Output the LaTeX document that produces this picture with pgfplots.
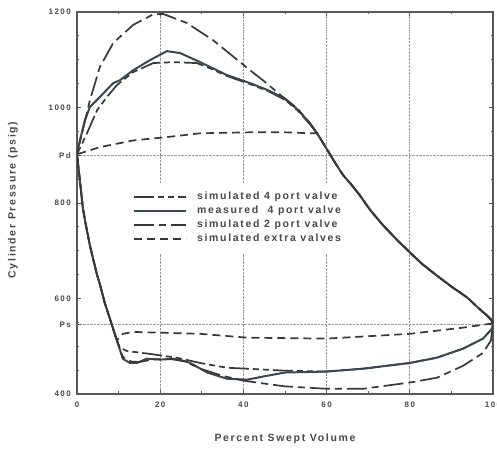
\documentclass[border=0pt]{standalone}
\usepackage{pgfplots}
\pgfplotsset{compat=1.18}
\usepackage{fontspec}
\setmainfont{Liberation Sans}
\newfontfamily\lblfont[LetterSpace=16]{Liberation Sans}
\newfontfamily\tickfont[LetterSpace=18]{Liberation Sans}

\definecolor{crv}{HTML}{383838}
\definecolor{meas}{HTML}{3A4753}
\definecolor{txt}{HTML}{474747}

\begin{document}
\begin{tikzpicture}
\begin{axis}[
    at={(0pt,0pt)}, anchor=south west,
    scale only axis,
    width=416pt, height=382pt,
    xmin=0, xmax=100, ymin=400, ymax=1200,
    xtick={0,20,40,60,80,100},
    ytick={400,600,800,1000,1200},
    minor x tick num=1,
    minor y tick num=3,
    extra y ticks={545,900},
    extra y tick labels={Ps,Pd},
    extra y tick style={grid=major},
    xmajorgrids=true,
    major grid style={densely dotted, black!40, line width=0.7pt},
    axis line style={black!65, line width=1.3pt},
    every tick/.style={black!65, line width=0.8pt},
    major tick length=4pt, minor tick length=2.5pt,
    /pgf/number format/assume math mode=true,
    /pgf/number format/1000 sep={},
    tick label style={font=\tickfont\fontsize{8}{8}\selectfont\bfseries, text=txt},
    yticklabel style={inner sep=0pt, xshift=-6pt},
    xticklabel style={inner sep=0pt, yshift=-8pt},
    legend style={at={(axis cs:11.5,841)}, anchor=north west, draw=none, fill=white,
        inner xsep=8pt, inner ysep=9pt, row sep=5pt, column sep=10pt,
        font=\lblfont\fontsize{10.5}{10.5}\selectfont\bfseries, text=txt,
        nodes={inner sep=0pt, text height=7pt, text depth=2pt}},
    legend cell align=left,
    legend image code/.code={\draw[#1] (0pt,0pt) -- (52pt,0pt);},
]
% simulated 4 port valve
\addplot[crv, line width=1.7pt, line join=round, dash pattern=on 20pt off 4pt on 6pt off 4pt on 6pt off 4pt] coordinates {
(100,549) (99.5,556) (98.6,564) (96.5,580) (93.8,602) (90,625) (86.5,648) (83,672) (80.8,690) (77,722) (73.6,753) (70.5,785) (68,816) (66,838) (64,858) (62.5,878) (60.8,902) (59.2,925) (57.7,946)
(56,965) (53,994) (50,1016) (46,1034) (41.6,1049) (36,1066) (32,1082) (28.8,1093) (23.1,1095) (18.3,1093) (13.5,1074) (9.6,1047) (7.2,1022) (4.8,994) (2.4,946) (0,902)
(0.7,847) (1.4,790) (2,760) (3.1,711) (4.8,650) (5.5,630) (6.7,590) (7.9,558) (9,528) (9.6,512)
(10.3,497) (12,490) (17.5,484) (24,476) (29.6,465) (36,455) (40.9,453) (49.5,449) (60,447) (68.8,453) (80,465) (86.5,476) (92.8,495) (97.6,516) (99.8,537) (100,549)
};
\addlegendentry{simulated 4 port valve}
% measured 4 port valve
\addplot[meas, line width=2pt, line join=round] coordinates {
(100,549) (99.5,556) (98.6,564) (96.5,580) (93.8,602) (90,625) (86.5,648) (83,672) (80.8,690) (77,722) (73.6,753) (70.5,785) (68,816) (66,838) (64,858) (62.5,878) (60.8,902) (59.2,925) (57.7,946)
(56,967) (53,996) (50,1018) (46,1036) (41.6,1051) (36,1068) (29.6,1095) (24.8,1114) (21.6,1118) (17.5,1099) (13.5,1078) (10.3,1057) (8.7,1051) (5.5,1022) (3.1,1001) (1.9,973) (0.7,931) (0,902)
(0.7,847) (1.4,790) (2,760) (3.1,711) (4.8,650) (5.5,630) (6.7,590) (7.9,558) (9,528) (9.6,512)
(11,474) (12.7,465) (14.4,465) (16.8,474) (20,472) (24,474) (27.2,465) (31.3,445) (36,432) (40.9,430) (45,437) (50,445) (60,447) (68.8,453) (80,465) (86.5,476) (92.8,495) (97.6,516) (99.8,537) (100,549)
};
\addlegendentry{measured\ \ 4 port valve}
% simulated 2 port valve
\addplot[crv, line width=1.7pt, line join=round, dash pattern=on 20pt off 5pt on 7pt off 5pt] coordinates {
(100,549) (99.5,556) (98.6,564) (96.5,580) (93.8,602) (90,625) (86.5,648) (83,672) (80.8,690) (77,722) (73.6,753) (70.5,785) (68,816) (66,838) (64,858) (62.5,878) (60.8,902) (59.2,925) (57.7,946)
(56,967) (53,998) (49.5,1022) (44.7,1057) (41.6,1078) (39.2,1095) (32.7,1141) (26.4,1177) (20.7,1196) (18.3,1195) (13.5,1173) (8.7,1135) (5.5,1085) (3.1,1015) (0,902)
(0.7,847) (1.4,790) (2,760) (3.1,711) (4.8,650) (5.5,630) (6.7,590) (7.9,558) (9,528) (9.6,512)
(11,478) (13,468) (15,467) (18,472) (22,474) (26,468) (30,452) (35,438) (40,428) (45.7,421) (50,416) (60,411) (68.8,411) (80,424) (86.5,434) (92.8,459) (97.6,486) (99.5,512) (100,549)
};
\addlegendentry{simulated 2 port valve}
% simulated extra valves
\addplot[crv, line width=1.7pt, line join=round, dash pattern=on 8pt off 5pt] coordinates {
(100,549) (99.5,556) (98.6,564) (96.5,580) (93.8,602) (90,625) (86.5,648) (83,672) (80.8,690) (77,722) (73.6,753) (70.5,785) (68,816) (66,838) (64,858) (62.5,878) (60.8,902) (59.2,925) (57.7,946)
(56.5,946) (50,948) (41.6,948) (29.6,946) (21.6,938) (13.5,931) (5.5,917) (0,902)
(0.7,847) (1.4,790) (2,760) (3.1,711) (4.8,650) (5.5,630) (6.7,590) (7.9,558) (9,528) (9.6,512)
(11,526) (13.5,530) (21.6,528) (29.6,526) (40.9,518) (60,516) (80,526) (92.8,539) (99.3,547) (100,549)
};
\addlegendentry{simulated extra valves}
\end{axis}
\node[rotate=90, font=\lblfont\fontsize{10.5}{10.5}\selectfont\bfseries, text=txt] at (-64pt,194pt) {Cylinder Pressure (psig)};
\node[font=\lblfont\fontsize{10.5}{10.5}\selectfont\bfseries, text=txt] at (208pt,-45pt) {Percent Swept Volume};
\pgfresetboundingbox
\useasboundingbox (-77pt,-55pt) rectangle (420pt,394pt);
\end{tikzpicture}
\end{document}
